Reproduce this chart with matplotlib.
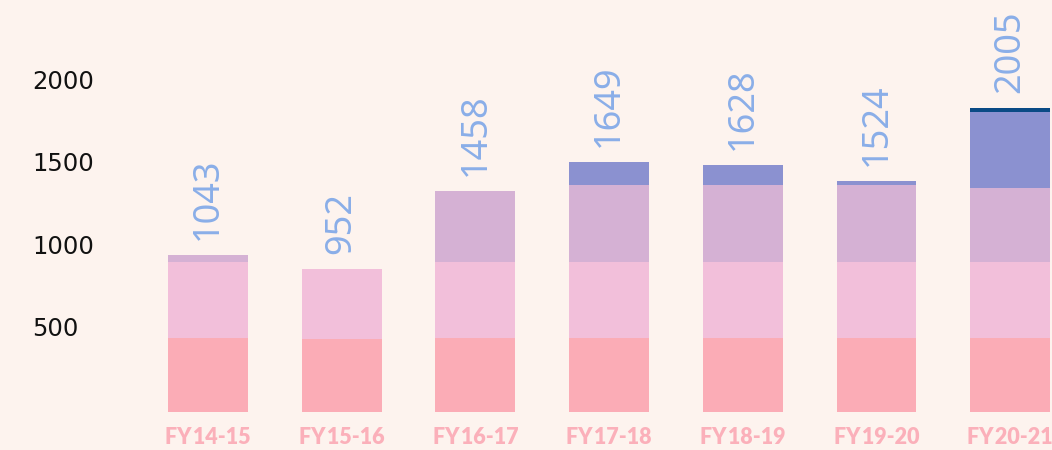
import matplotlib.pyplot as plt
import numpy as np

# data
years = ['FY\u200a14-15', 'FY\u200a15-16', 'FY\u200a16-17', 'FY\u200a17-18',
         'FY\u200a18-19', 'FY\u200a19-20', 'FY\u200a20-21']
seg1 = [448, 440, 448, 448, 448, 448, 448]
seg2 = [459, 425, 461, 461, 461, 459, 459]
seg3 = [43, 0, 429, 466, 466, 467, 451]
seg4 = [0, 0, 0, 139, 121, 24, 460]
seg5 = [0, 0, 0, 0, 0, 0, 24]
totals = [1043, 952, 1458, 1649, 1628, 1524, 2005]
yticks = [500, 1000, 1500, 2000]

bg = '#FDF3EE'
colors = ['#FBACB6', '#F2BFDA', '#D5B1D4', '#8B91D0', '#0A4A85']

fig = plt.figure(figsize=(10.52, 4.5), dpi=100, facecolor=bg)
ax = fig.add_axes([0, 38.5 / 450, 1, 411.5 / 450])
ax.set_facecolor(bg)

x = np.arange(len(years))
bottom = np.zeros(len(years))
for seg, c in zip([seg1, seg2, seg3, seg4, seg5], colors):
    ax.bar(x, seg, bottom=bottom, width=0.598, color=c, linewidth=0)
    bottom += np.array(seg)

for xi, top, lab in zip(x, bottom, totals):
    ax.annotate(str(lab), (xi, top), xytext=(0, 11), textcoords='offset points',
                rotation=90, ha='center', va='bottom', fontsize=26,
                family='Noto Sans', color='#8AAEE8')

for t in yticks:
    ax.text(32 / 1052, t, str(t), transform=ax.get_yaxis_transform(),
            ha='left', va='center', fontsize=17.5, color='#111111')

ax.set_xlim(-1.5557, 6.3126)
ax.set_ylim(0, 2497)
ax.set_yticks([])
ax.set_xticks(x)
ax.set_xticklabels(years, family=['Lato', 'DejaVu Sans'], weight='heavy',
                   fontsize=15.5, color='#FBB0BA')
ax.tick_params(axis='x', length=0, pad=11.5)
for s in ax.spines.values():
    s.set_visible(False)

plt.savefig('out.png', dpi=100, facecolor=bg)
